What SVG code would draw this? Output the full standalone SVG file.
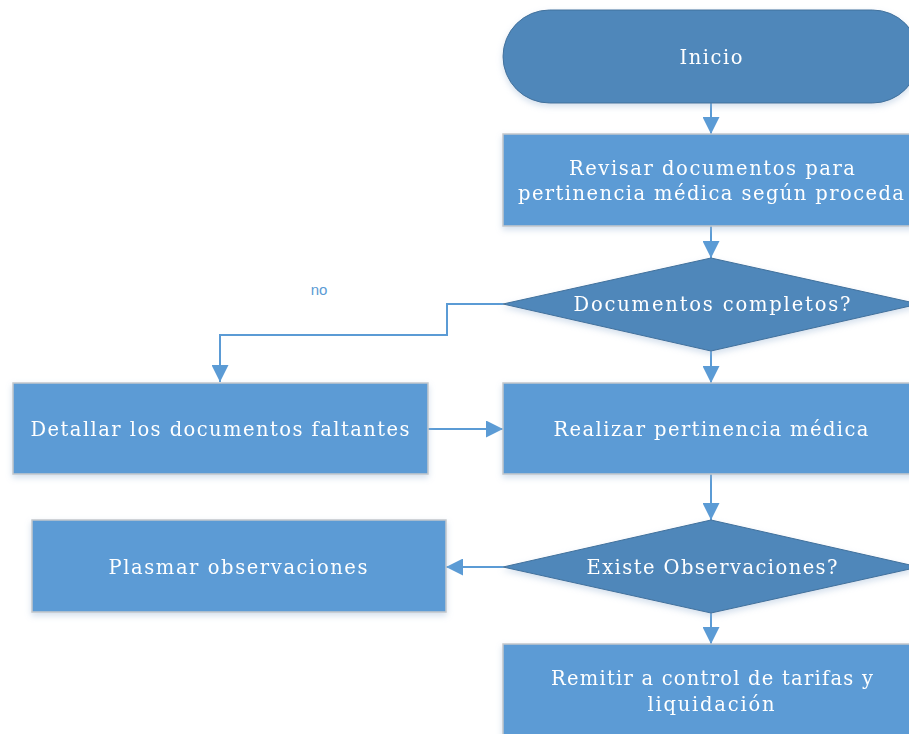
<svg xmlns="http://www.w3.org/2000/svg" width="909" height="734" viewBox="0 0 909 734">
<style>
.term{fill:#4F87BA;stroke:#41719C;stroke-width:1}
.dec{fill:#4F87BA;stroke:#41719C;stroke-width:1}
.proc{fill:#5B9BD5;stroke:#C4C8CC;stroke-width:1.5}
.t{fill:#FFFFFF;font-family:"DejaVu Serif","Liberation Serif",serif;font-size:19.5px;text-anchor:middle}
.c{fill:none;stroke:#5B9BD5;stroke-width:2}
.lbl{fill:#5B9BD5;font-family:"Liberation Sans","DejaVu Sans",sans-serif;font-size:15px;text-anchor:middle}
</style>
<defs>
<marker id="ah" markerUnits="userSpaceOnUse" markerWidth="17" markerHeight="17" viewBox="0 0 17 17" refX="17" refY="8.5" orient="auto">
<path d="M0,0 L17,8.5 L0,17 Z" fill="#5B9BD5"/>
</marker>
<filter id="sh" x="-10%" y="-10%" width="120%" height="130%">
<feDropShadow dx="0" dy="3" stdDeviation="3" flood-color="#9DB8D6" flood-opacity="0.45"/>
</filter>
</defs>
<rect width="909" height="734" fill="#FFFFFF"/>
<g id="connectors">
<path class="c" d="M711,103 V134" marker-end="url(#ah)"/>
<path class="c" d="M711,226 V258" marker-end="url(#ah)"/>
<path class="c" d="M503,304 H447 V335 H220 V382" marker-end="url(#ah)"/>
<path class="c" d="M711,351 V383" marker-end="url(#ah)"/>
<path class="c" d="M428,429 H503" marker-end="url(#ah)"/>
<path class="c" d="M711,474 V520" marker-end="url(#ah)"/>
<path class="c" d="M503,567 H446" marker-end="url(#ah)"/>
<path class="c" d="M711,613 V644" marker-end="url(#ah)"/>
<text class="lbl" x="319" y="295">no</text>
</g>
<g id="inicio" filter="url(#sh)">
<rect class="term" x="503" y="10" width="416" height="93" rx="46.5" ry="46.5"/>
<text class="t" x="711" y="64" textLength="63" lengthAdjust="spacing">Inicio</text>
</g>
<g id="revisar" filter="url(#sh)">
<rect class="proc" x="503" y="134" width="416" height="92"/>
<text class="t" x="712" y="175" textLength="286" lengthAdjust="spacing">Revisar documentos para</text>
<text class="t" x="711" y="200" textLength="386" lengthAdjust="spacing">pertinencia médica según proceda</text>
</g>
<g id="documentos-completos" filter="url(#sh)">
<polygon class="dec" points="711,258 919,304 711,351 503,304"/>
<text class="t" x="712" y="311" textLength="277" lengthAdjust="spacing">Documentos completos?</text>
</g>
<g id="detallar" filter="url(#sh)">
<rect class="proc" x="13" y="383" width="415" height="91"/>
<text class="t" x="220" y="436" textLength="379" lengthAdjust="spacing">Detallar los documentos faltantes</text>
</g>
<g id="realizar" filter="url(#sh)">
<rect class="proc" x="503" y="383" width="416" height="91"/>
<text class="t" x="711" y="436" textLength="315" lengthAdjust="spacing">Realizar pertinencia médica</text>
</g>
<g id="existe-observaciones" filter="url(#sh)">
<polygon class="dec" points="711,520 919,567 711,613 503,567"/>
<text class="t" x="712" y="574" textLength="251" lengthAdjust="spacing">Existe Observaciones?</text>
</g>
<g id="plasmar" filter="url(#sh)">
<rect class="proc" x="32" y="520" width="414" height="92"/>
<text class="t" x="238" y="574" textLength="259" lengthAdjust="spacing">Plasmar observaciones</text>
</g>
<g id="remitir" filter="url(#sh)">
<rect class="proc" x="503" y="644" width="416" height="95"/>
<text class="t" x="712" y="685" textLength="322" lengthAdjust="spacing">Remitir a control de tarifas y</text>
<text class="t" x="711" y="711" textLength="127" lengthAdjust="spacing">liquidación</text>
</g>
</svg>
